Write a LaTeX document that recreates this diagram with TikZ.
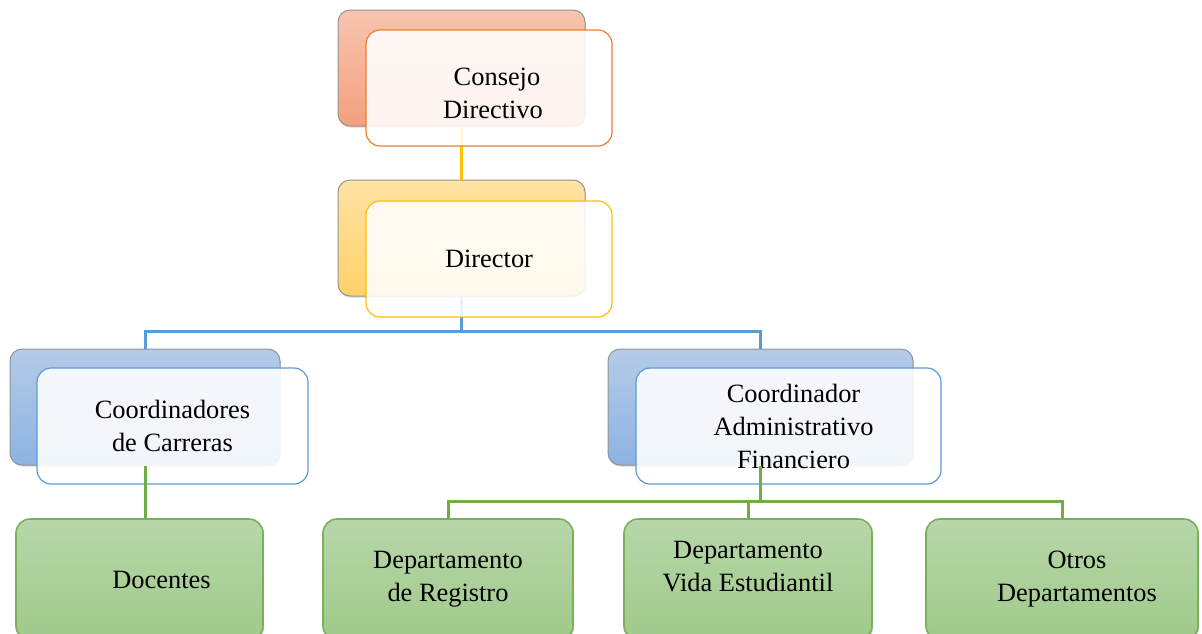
\documentclass[tikz,border=0pt]{standalone}
\usepackage{fontspec}
\setmainfont{Liberation Serif}
\usetikzlibrary{shadows}
\definecolor{salmontop}{HTML}{F8C4AF}
\definecolor{salmonbot}{HTML}{F3A07E}
\definecolor{goldtop}{HTML}{FFE3A3}
\definecolor{goldbot}{HTML}{FFD168}
\definecolor{bluetop}{HTML}{B4CBE8}
\definecolor{bluebot}{HTML}{8DB3E2}
\definecolor{greentop}{HTML}{B7D7A9}
\definecolor{greenbot}{HTML}{9FC98A}
\definecolor{orangeline}{HTML}{ED7D31}
\definecolor{goldline}{HTML}{FFC000}
\definecolor{blueline}{HTML}{5B9BD5}
\definecolor{greenline}{HTML}{70AD47}
\definecolor{greenedge}{HTML}{7BAF5C}
\tikzset{
  backbox/.style={draw=gray!85, line width=0.5pt, rounded corners=6pt,
    minimum height=58pt,
    drop shadow={shadow xshift=0.4pt, shadow yshift=-0.8pt, opacity=0.3}},
  frontbox/.style={line width=0.6pt, rounded corners=7pt, fill=white,
    fill opacity=0.88, text opacity=1, minimum height=58pt, align=center,
    font=\fontsize{13.2}{16.5}\selectfont},
  greenbox/.style={draw=greenedge, line width=0.8pt, rounded corners=7pt,
    top color=greentop, bottom color=greenbot, minimum height=60.5pt,
    align=center, font=\fontsize{13.2}{16.5}\selectfont,
    drop shadow={shadow xshift=0.6pt, shadow yshift=-0.6pt, opacity=0.35}},
  link/.style={line width=1.5pt}
}
\begin{document}
\begin{tikzpicture}[x=0.5pt,y=-0.5pt]
  \useasboundingbox (0,0) rectangle (1202,633);
  \clip (0,0) rectangle (1202,633);

  % back boxes
  \node[backbox, top color=salmontop, bottom color=salmonbot, minimum width=123.5pt]
    (consejo-back) at (461.5,68) {};
  \node[backbox, top color=goldtop, bottom color=goldbot, minimum width=123.5pt]
    (director-back) at (461.5,238) {};
  \node[backbox, top color=bluetop, bottom color=bluebot, minimum width=135pt]
    (coord-back) at (145,407) {};
  \node[backbox, top color=bluetop, bottom color=bluebot, minimum width=152.5pt]
    (admin-back) at (760.5,407) {};

  % connectors
  \coordinate (dir-split) at (461.5,331);
  \coordinate (admin-split) at (760.5,501);
  \draw[link, goldline] (consejo-back.south) -- (director-back.north);
  \draw[link, blueline] (director-back.south) -- (dir-split) -| (coord-back.north);
  \draw[link, blueline] (dir-split) -| (admin-back.north);

  % front boxes
  \node[frontbox, draw=orangeline, minimum width=123pt]
    (consejo) at (489,88) {\mbox{}\\[-2pt]\hspace*{8pt}Consejo\\\hspace*{4pt}Directivo};
  \node[frontbox, draw=goldline, minimum width=123pt]
    (director) at (489,259) {Director};
  \node[frontbox, draw=blueline, minimum width=135.5pt]
    (coord) at (172.5,426) {Coordinadores\\de Carreras};
  \node[frontbox, draw=blueline, minimum width=152.5pt]
    (admin) at (788.5,426) {\hspace*{5pt}Coordinador\\\hspace*{5pt}Administrativo\\\hspace*{5pt}Financiero};

  % bottom row
  \node[greenbox, minimum width=123.5pt] (docentes) at (139.5,579.5) {\hspace*{22pt}Docentes};
  \node[greenbox, minimum width=125pt] (registro) at (448,579.5) {Departamento\\de Registro};
  \node[greenbox, minimum width=124pt] (vida) at (748,579.5) {Departamento\\Vida Estudiantil\\[-3pt]\mbox{}};
  \node[greenbox, minimum width=136pt] (otros) at (1062,579.5) {\hspace*{15pt}Otros\\\hspace*{15pt}Departamentos};

  \draw[link, greenline] (coord-back.south) -- (coord-back.south |- docentes.north);
  \draw[link, greenline] (admin-back.south) -- (admin-split) -| (registro.north);
  \draw[link, greenline] (admin-split) -| (vida.north);
  \draw[link, greenline] (admin-split) -| (otros.north);
\end{tikzpicture}
\end{document}
